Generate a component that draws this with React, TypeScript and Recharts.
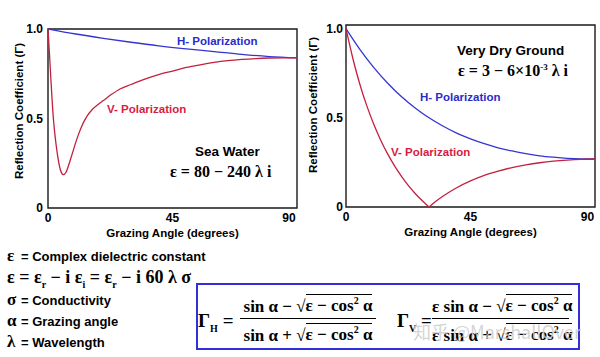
import React from 'react';
import { LineChart, Line, XAxis, YAxis, ReferenceArea } from 'recharts';

// ---------- tick labels ----------
const xTickLabels = [0, 45, 90];
const xMinorTicks = [0, 10, 20, 30, 40, 50, 60, 70, 80, 90];
const yTickLabels = [0, 0.5, 1];
const yMinorTicks = [0, 0.1, 0.2, 0.3, 0.4, 0.5, 0.6, 0.7, 0.8, 0.9, 1];

// ---------- Sea Water ----------
const seaHAngles = [0, 10, 20, 30, 40, 50, 60, 70, 80, 90];
const seaH = [1.0, 0.972, 0.948, 0.926, 0.906, 0.889, 0.874, 0.858, 0.846, 0.839];
const seaVAngles = [0, 0.5, 1, 1.5, 2, 2.5, 3, 3.5, 4, 4.5, 5, 5.5, 6, 6.5, 7, 8, 9, 10, 11, 12, 14, 16, 18, 20, 23, 26, 30, 35, 40, 45, 50, 55, 60, 65, 70, 75, 80, 85, 90];
const seaV = [1.0, 0.87, 0.73, 0.6, 0.49, 0.41, 0.345, 0.29, 0.245, 0.212, 0.193, 0.186, 0.19, 0.2, 0.218, 0.265, 0.315, 0.365, 0.41, 0.45, 0.51, 0.55, 0.577, 0.6, 0.635, 0.665, 0.69, 0.72, 0.745, 0.765, 0.785, 0.8, 0.813, 0.823, 0.83, 0.835, 0.838, 0.839, 0.839];

// ---------- Very Dry Ground ----------
const dryHAngles = [0, 5, 10, 15, 20, 25, 30, 35, 40, 45, 50, 55, 60, 65, 70, 75, 80, 85, 90];
const dryH = [1.0, 0.884, 0.783, 0.695, 0.619, 0.555, 0.5, 0.454, 0.414, 0.382, 0.355, 0.332, 0.314, 0.299, 0.287, 0.279, 0.273, 0.27, 0.269];
const dryVDownAngles = [0, 2.5, 5, 7.5, 10, 12.5, 15, 17.5, 20, 22.5, 25, 27.5, 30];
const dryVDown = [1.0, 0.831, 0.688, 0.568, 0.465, 0.376, 0.299, 0.232, 0.173, 0.121, 0.076, 0.036, 0];
const dryVUpAngles = [30, 32.5, 35, 40, 45, 50, 55, 60, 65, 70, 75, 80, 85, 90];
const dryVUp = [0, 0.032, 0.06, 0.108, 0.146, 0.177, 0.201, 0.221, 0.236, 0.248, 0.257, 0.263, 0.267, 0.269];

const toData = (xs: number[], ys: number[]) => xs.map((a, i) => ({ a, v: ys[i] }));

const SANS = '"Liberation Sans", Arial, sans-serif';
const SERIF = '"Liberation Serif", "Times New Roman", serif';
const BLUE_LINE = '#3434d2';
const RED_LINE = '#c4203e';
const BLUE_TXT = '#2b2bcc';
const RED_TXT = '#d81c40';

const tickStyle = { fontFamily: SANS, fontWeight: 700, fontSize: 12, fill: '#000' };

const XTick = (props: any) => {
  const { x, y, payload, shift90 } = props;
  const dx = payload.value === 90 ? shift90 : 0;
  return (
    <text x={x + dx} y={y} dy="0.71em" textAnchor="middle" style={tickStyle}>
      {payload.value}
    </text>
  );
};

const YTitle = (props: any) => {
  const { cx, cy } = props;
  return (
    <text
      x={cx}
      y={cy}
      transform={`rotate(-90 ${cx} ${cy})`}
      textAnchor="middle"
      dominantBaseline="central"
      style={{ fontFamily: SANS, fontWeight: 700, fontSize: 11.5, fill: '#000' }}
    >
      Reflection Coefficient (Γ)
    </text>
  );
};

type PanelProps = {
  left: number;
  yMax: number;
  marginTop: number;
  marginRight: number;
  yAxisWidth: number;
  xAxisHeight: number;
  yTickMargin: number;
  titleOffset: number;
  yTitleX: number;
  yTitleY: number;
  shift90: number;
  series: { data: { a: number; v: number }[]; color: string }[];
};

const Panel = (p: PanelProps) => (
  <div style={{ position: 'absolute', left: p.left, top: 0 }}>
    <LineChart width={300} height={240} margin={{ top: p.marginTop, right: p.marginRight, bottom: 0, left: 0 }}>
      <XAxis
        xAxisId="m"
        dataKey="a"
        type="number"
        domain={[0, 90]}
        ticks={xTickLabels}
        allowDuplicatedCategory={false}
        axisLine={false}
        tickLine={false}
        tickSize={0}
        tickMargin={5}
        height={p.xAxisHeight}
        tick={<XTick shift90={p.shift90} />}
        label={{
          value: 'Grazing Angle (degrees)',
          position: 'insideBottom',
          offset: p.titleOffset,
          style: { fontFamily: SANS, fontWeight: 700, fontSize: 11.5, fill: '#000' },
        }}
      />
      <XAxis
        xAxisId="t"
        type="number"
        domain={[0, 90]}
        ticks={xMinorTicks}
        mirror
        height={0}
        axisLine={false}
        tick={false}
        tickSize={5}
        tickLine={{ stroke: '#222', strokeWidth: 1 }}
      />
      <YAxis
        yAxisId="m"
        type="number"
        domain={[0, p.yMax]}
        ticks={yTickLabels}
        width={p.yAxisWidth}
        axisLine={false}
        tickLine={false}
        tickSize={0}
        tickMargin={p.yTickMargin}
        tick={tickStyle}
        tickFormatter={(v: number) => (v === 1 ? '1.0' : String(v))}
        label={<YTitle cx={p.yTitleX} cy={p.yTitleY} />}
      />
      <YAxis
        yAxisId="t"
        type="number"
        domain={[0, p.yMax]}
        ticks={yMinorTicks}
        mirror
        width={0}
        axisLine={false}
        tick={false}
        tickSize={5}
        tickLine={{ stroke: '#222', strokeWidth: 1 }}
      />
      <ReferenceArea
        xAxisId="m"
        yAxisId="m"
        x1={0}
        x2={90}
        y1={0}
        y2={p.yMax}
        fill="none"
        stroke="#1a1a1a"
        strokeWidth={1.4}
        ifOverflow="visible"
      />
      {p.series.map((s, i) => (
        <Line
          key={i}
          xAxisId="m"
          yAxisId="m"
          data={s.data}
          dataKey="v"
          type="monotone"
          stroke={s.color}
          strokeWidth={1.3}
          dot={false}
          activeDot={false}
          isAnimationActive={false}
        />
      ))}
    </LineChart>
  </div>
);

const Txt = (props: { x: number; cy: number; size: number; color?: string; serif?: boolean; bold?: boolean; children: React.ReactNode }) => {
  const { x, cy, size, color = '#000', serif = false, bold = true, children } = props;
  return (
    <div
      style={{
        position: 'absolute',
        left: x,
        top: cy - size * (serif ? 0.55 : 0.49),
        fontSize: size,
        lineHeight: 1,
        fontFamily: serif ? SERIF : SANS,
        fontWeight: bold ? 700 : 400,
        color,
        whiteSpace: 'nowrap',
      }}
    >
      {children}
    </div>
  );
};

const Sqrt = ({ children }: { children: React.ReactNode }) => (
  <span>
    √<span style={{ borderTop: '1.5px solid #000', paddingTop: 1 }}>{children}</span>
  </span>
);

const FracPart = ({ x, cy, w, children }: { x: number; cy: number; w: number; children: React.ReactNode }) => (
  <div
    style={{
      position: 'absolute',
      left: x,
      width: w,
      top: cy - 17 * 0.55,
      fontSize: 17,
      lineHeight: 1,
      fontFamily: SERIF,
      fontWeight: 700,
      textAlign: 'center',
      whiteSpace: 'nowrap',
    }}
  >
    {children}
  </div>
);

export default function App() {
  return (
    <div style={{ position: 'relative', width: 600, height: 357, background: '#fff', overflow: 'hidden' }}>
      <style>{`body{margin:0;background:#fff}`}</style>

      <Panel
        left={0}
        yMax={1}
        marginTop={29}
        marginRight={3}
        yAxisWidth={48}
        xAxisHeight={32}
        yTickMargin={5}
        titleOffset={3}
        yTitleX={19}
        yTitleY={111}
        shift90={-3}
        series={[
          { data: toData(seaHAngles, seaH), color: BLUE_LINE },
          { data: toData(seaVAngles, seaV), color: RED_LINE },
        ]}
      />
      <Panel
        left={300}
        yMax={1.02}
        marginTop={25}
        marginRight={5}
        yAxisWidth={46}
        xAxisHeight={33}
        yTickMargin={3}
        titleOffset={4.4}
        yTitleX={13}
        yTitleY={105}
        shift90={-4.5}
        series={[
          { data: toData(dryHAngles, dryH), color: BLUE_LINE },
          { data: toData(dryVDownAngles, dryVDown), color: RED_LINE },
          { data: toData(dryVUpAngles, dryVUp), color: RED_LINE },
        ]}
      />

      {/* left panel annotations */}
      <Txt x={177} cy={41.7} size={11.5} color={BLUE_TXT}>H- Polarization</Txt>
      <Txt x={107} cy={110} size={11.5} color={RED_TXT}>V- Polarization</Txt>
      <Txt x={195} cy={151.7} size={13.5}>Sea Water</Txt>
      <Txt x={170} cy={173} size={16} serif>ε = 80 − 240 λ i</Txt>

      {/* right panel annotations */}
      <Txt x={457} cy={51} size={13.5}>Very Dry Ground</Txt>
      <Txt x={458} cy={72} size={16} serif>
        ε = 3 − 6×10<sup style={{ fontSize: 9, verticalAlign: 6 }}>-3</sup> λ i
      </Txt>
      <Txt x={420} cy={97.5} size={11.5} color={BLUE_TXT}>H- Polarization</Txt>
      <Txt x={391} cy={153} size={11.5} color={RED_TXT}>V- Polarization</Txt>

      {/* definitions */}
      <Txt x={7} cy={256} size={17} serif>ε</Txt>
      <Txt x={21} cy={256} size={13}>= Complex dielectric constant</Txt>
      <Txt x={7} cy={277.5} size={18} serif>
        ε = ε<sub style={{ fontSize: 10 }}>r</sub> − i ε<sub style={{ fontSize: 10 }}>i</sub> = ε<sub style={{ fontSize: 10 }}>r</sub> − i 60 λ σ
      </Txt>
      <Txt x={7} cy={300} size={17} serif>σ</Txt>
      <Txt x={21} cy={300} size={13}>= Conductivity</Txt>
      <Txt x={7} cy={321.7} size={17} serif>α</Txt>
      <Txt x={21} cy={321.7} size={13}>= Grazing angle</Txt>
      <Txt x={7} cy={342.5} size={17} serif>λ</Txt>
      <Txt x={21} cy={342.5} size={13}>= Wavelength</Txt>

      {/* formula box */}
      <div
        style={{
          position: 'absolute',
          left: 196,
          top: 283,
          width: 384,
          height: 67,
          boxSizing: 'border-box',
          border: '2px solid #3030d8',
        }}
      />
      <Txt x={198} cy={321.7} size={19} serif>
        Γ<sub style={{ fontSize: 10 }}>H</sub> =
      </Txt>
      <FracPart x={240} cy={306} w={136}>
        sin α − <Sqrt>ε − cos<sup style={{ fontSize: 10 }}>2</sup> α</Sqrt>
      </FracPart>
      <div style={{ position: 'absolute', left: 240, top: 317.5, width: 136, height: 1.5, background: '#000' }} />
      <FracPart x={240} cy={335} w={136}>
        sin α + <Sqrt>ε − cos<sup style={{ fontSize: 10 }}>2</sup> α</Sqrt>
      </FracPart>

      <Txt x={397} cy={321.7} size={19} serif>
        Γ<sub style={{ fontSize: 10 }}>V</sub> =
      </Txt>
      <FracPart x={432} cy={306} w={137}>
        ε sin α − <Sqrt>ε − cos<sup style={{ fontSize: 10 }}>2</sup> α</Sqrt>
      </FracPart>
      <div style={{ position: 'absolute', left: 432, top: 317.5, width: 137, height: 1.5, background: '#000' }} />
      <FracPart x={432} cy={335} w={137}>
        ε sin α + <Sqrt>ε − cos<sup style={{ fontSize: 10 }}>2</sup> α</Sqrt>
      </FracPart>

      {/* watermark */}
      <div
        style={{
          position: 'absolute',
          left: 413,
          top: 322,
          fontSize: 18,
          lineHeight: 1,
          fontFamily: '"Noto Sans CJK SC", "Noto Sans", sans-serif',
          color: 'rgba(205,205,205,0.85)',
          whiteSpace: 'nowrap',
        }}
      >
        知乎 @MarshallOver
      </div>
    </div>
  );
}
